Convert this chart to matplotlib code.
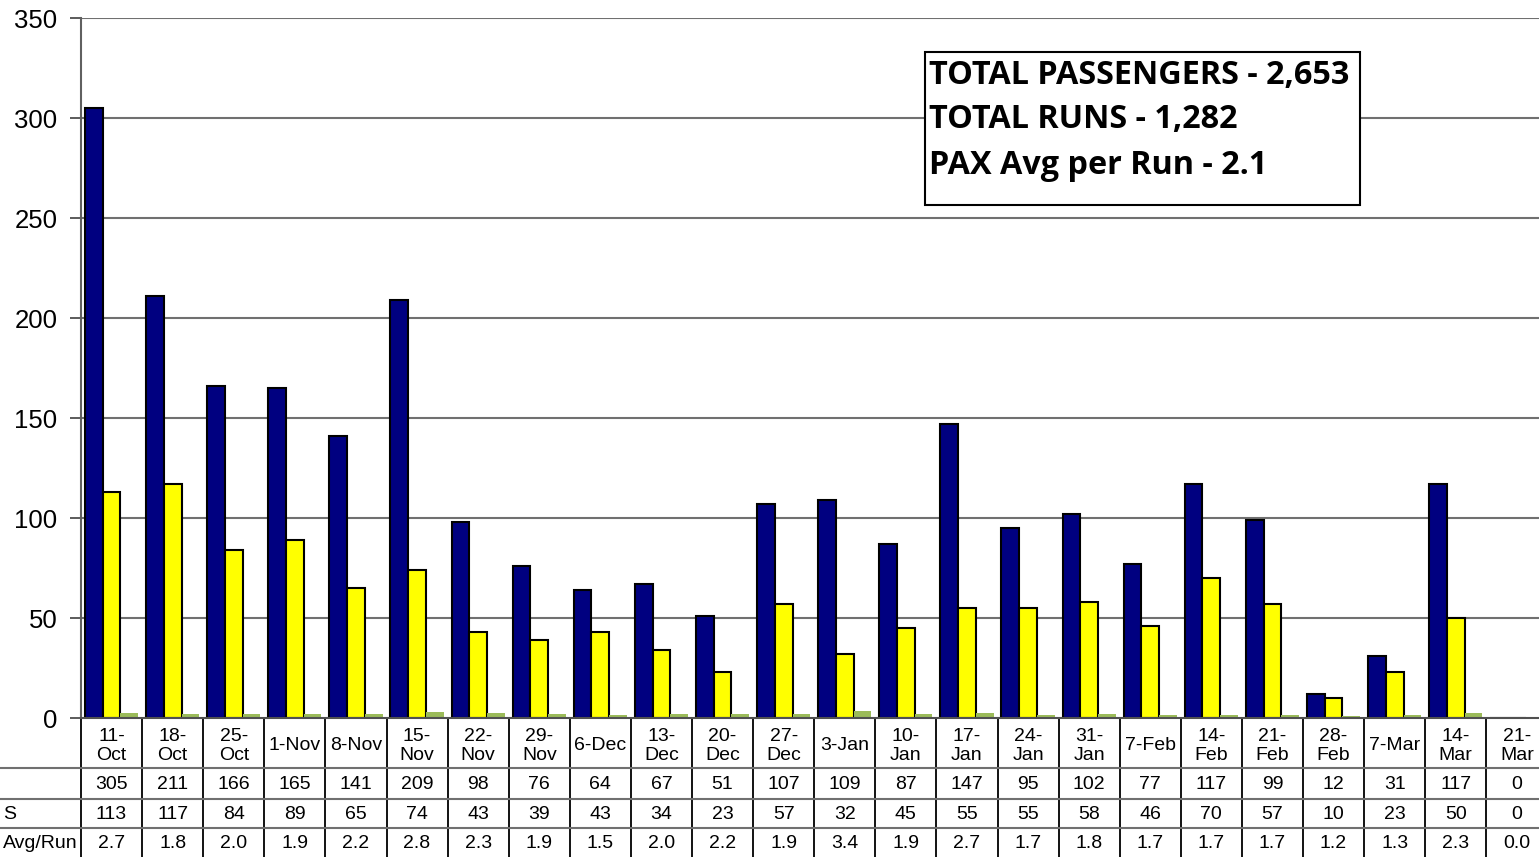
import matplotlib
matplotlib.use("Agg")
import matplotlib.pyplot as plt
from matplotlib.patches import Rectangle
from matplotlib.lines import Line2D
from matplotlib.transforms import blended_transform_factory
import numpy as np

dates = ["11-Oct", "18-Oct", "25-Oct", "1-Nov", "8-Nov", "15-Nov", "22-Nov", "29-Nov",
         "6-Dec", "13-Dec", "20-Dec", "27-Dec", "3-Jan", "10-Jan", "17-Jan", "24-Jan",
         "31-Jan", "7-Feb", "14-Feb", "21-Feb", "28-Feb", "7-Mar", "14-Mar", "21-Mar"]
passengers = [305, 211, 166, 165, 141, 209, 98, 76, 64, 67, 51, 107, 109, 87, 147, 95,
              102, 77, 117, 99, 12, 31, 117, 0]
runs = [113, 117, 84, 89, 65, 74, 43, 39, 43, 34, 23, 57, 32, 45, 55, 55, 58, 46, 70,
        57, 10, 23, 50, 0]
avg_run = [2.7, 1.8, 2.0, 1.9, 2.2, 2.8, 2.3, 1.9, 1.5, 2.0, 2.2, 1.9, 3.4, 1.9, 2.7,
           1.7, 1.8, 1.7, 1.7, 1.7, 1.2, 1.3, 2.3, 0.0]
row_labels = ["", "S", "Avg/Run"]
summary_lines = ["TOTAL PASSENGERS - 2,653", "TOTAL RUNS - 1,282", "PAX Avg per Run - 2.1"]
yticks = [0, 50, 100, 150, 200, 250, 300, 350]

W, H = 1539, 857
fig = plt.figure(figsize=(W / 100, H / 100), dpi=100)
ax_left, ax_right = 81, 81 + 24 * 61.1
ax_top, ax_bot = 18, 718
ax = fig.add_axes([ax_left / W, (H - ax_bot) / H, (ax_right - ax_left) / W, (ax_bot - ax_top) / H])

n = len(dates)
x = np.arange(n)
bw = 0.29
ax.bar(x - bw, passengers, bw, color="#000080", edgecolor="black", linewidth=1.5, zorder=3)
ax.bar(x, runs, bw, color="#FFFF00", edgecolor="black", linewidth=1.5, zorder=3)
ax.bar(x + bw, avg_run, bw, color="#9BBB59", edgecolor="none", linewidth=0, zorder=3)

ax.set_xlim(-0.5, n - 0.5)
ax.set_ylim(0, 350)
ax.set_yticks(yticks)
ax.set_yticklabels([str(v) for v in yticks], fontsize=18.5, family="Liberation Sans")
ax.tick_params(axis="y", length=8, width=1.2, color="#404040", pad=9)
ax.set_xticks([])
for v in yticks[1:]:
    ax.axhline(v, color="#707070", lw=1.5, zorder=1)
for s in ["top", "right", "bottom"]:
    ax.spines[s].set_visible(False)
ax.spines["left"].set_color("#606060")
ax.spines["left"].set_linewidth(1.5)

# summary box
bx0 = (925 - ax_left) / 61.1 - 0.5
bx1 = (1360 - ax_left) / 61.1 - 0.5
by0, by1 = (ax_bot - 205) / 2, (ax_bot - 52) / 2
ax.add_patch(Rectangle((bx0, by0), bx1 - bx0, by1 - by0, facecolor="white",
                       edgecolor="black", linewidth=1.5, zorder=5))
for i, line in enumerate(summary_lines):
    ax.text(bx0 + 0.07, by1 - 11.5 - i * 22.5, line, fontsize=23.3, fontweight="bold",
            family="Open Sans", va="center", ha="left", zorder=6)

# data table below the axis
trans = blended_transform_factory(ax.transData, fig.transFigure)
def fy(py):
    return (H - py) / H

row_edges = [718, 768, 799, 828, 857]
tfont = dict(fontsize=14, family="Liberation Sans", zorder=6)
for i, d in enumerate(dates):
    day, mon = d.split("-")
    lab = f"{day}-\n{mon}" if len(day) == 2 else d
    ax.text(i, fy((row_edges[0] + row_edges[1]) / 2 + 3), lab, transform=trans,
            ha="center", va="center", linespacing=1.1, clip_on=False, **tfont)
    vals = [str(passengers[i]), str(runs[i]), f"{avg_run[i]:.1f}"]
    for r, v in enumerate(vals):
        ax.text(i, fy((row_edges[r + 1] + row_edges[r + 2]) / 2 + 1), v, transform=trans,
                ha="center", va="center", clip_on=False, **tfont)
for r, lab in enumerate(row_labels):
    fig.text(3 / W, fy((row_edges[r + 1] + row_edges[r + 2]) / 2 + 1), lab,
             ha="left", va="center", **tfont)

for b in range(n + 1):
    xb = b - 0.5
    fig.add_artist(Line2D([xb, xb], [fy(718), fy(857)], transform=trans, color="black",
                          lw=1.3, clip_on=False))
for py in row_edges[1:4]:
    fig.add_artist(Line2D([0, 1], [fy(py), fy(py)], transform=fig.transFigure,
                          color="#707070", lw=1.5))
fig.add_artist(Line2D([ax_left / W, 1], [fy(718), fy(718)], transform=fig.transFigure,
                      color="#505050", lw=1.5))

fig.savefig("out.png", dpi=100)
